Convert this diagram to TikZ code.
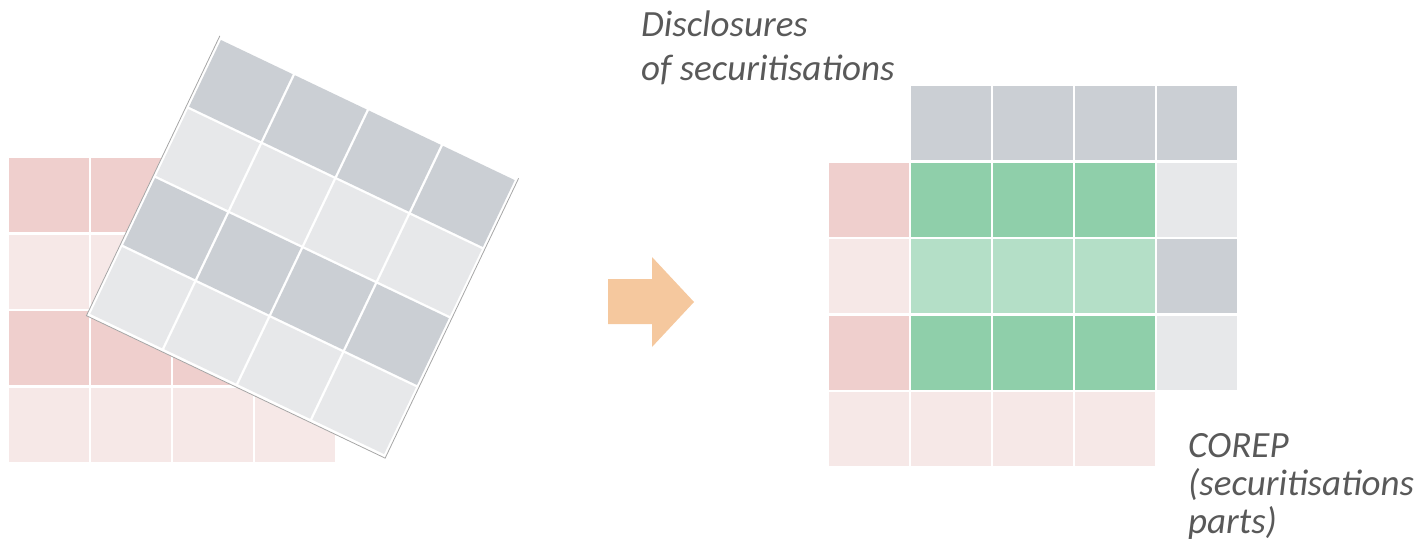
\documentclass[tikz,border=0pt]{standalone}
\usepackage{fontspec}
\setmainfont{Carlito}
\usetikzlibrary{positioning}
\definecolor{pinkdark}{HTML}{EFCFCD}
\definecolor{pinklight}{HTML}{F6E8E7}
\definecolor{graydark}{HTML}{CBCFD4}
\definecolor{graylight}{HTML}{E7E8EA}
\definecolor{greendark}{HTML}{8FCFAA}
\definecolor{greenlight}{HTML}{B4DFC7}
\definecolor{arrowfill}{HTML}{F5C89E}
\definecolor{notegray}{HTML}{595959}

\begin{document}
\begin{tikzpicture}[x=1pt, y=-1pt,
  notetext/.style={anchor=base west, inner sep=0, align=left, text=notegray}]
\useasboundingbox (0,0) rectangle (1422,547);
% pink template, left
\foreach \r/\shade in {0/pinkdark,1/pinklight,2/pinkdark,3/pinklight}
  \foreach \c in {0,...,3}
    \fill[\shade] (9+82*\c, 158+76.5*\r) rectangle ++(79.5,74);
% tilted grey template on top
\begin{scope}[rotate around={-25.5:(302.5,247)}]
\fill[white] (137,92) rectangle (468,402);
\draw[black!35, line width=0.8] (137,92) -- (137,402) -- (468,402) -- (468,92);
\foreach \r/\shade in {0/graydark,1/graylight,2/graydark,3/graylight}
  \foreach \c in {0,...,3}
    \fill[\shade] (139.75+82*\c, 95.25+76.5*\r) rectangle ++(79.5,74);
\end{scope}
% arrow
\fill[arrowfill] (608,279) -- (652,279) -- (652,257) -- (694,302)
  -- (652,347) -- (652,324) -- (608,324) -- cycle;
% merged grid, right
\foreach \c in {1,...,4}
  \fill[graydark] (829+82*\c, 86) rectangle ++(79.5,74);
\foreach \r/\lcol/\mcol/\rcol in {1/pinkdark/greendark/graylight,
    2/pinklight/greenlight/graydark, 3/pinkdark/greendark/graylight}{
  \fill[\lcol] (829, 86+76.5*\r) rectangle ++(79.5,74);
  \foreach \c in {1,2,3}
    \fill[\mcol] (829+82*\c, 86+76.5*\r) rectangle ++(79.5,74);
  \fill[\rcol] (829+82*4, 86+76.5*\r) rectangle ++(79.5,74);
}
\foreach \c in {0,...,3}
  \fill[pinklight] (829+82*\c, 86+76.5*4) rectangle ++(79.5,74);
% labels (anchored on the last line)
\node[notetext, font=\itshape\fontsize{37}{44}\selectfont] (disclosures)
  at (641,80) {Disclosures\\of securitisations};
\node[notetext, font=\itshape\fontsize{37}{38}\selectfont] (corep)
  at (1188,533) {COREP\\(securitisations\\parts)};
\end{tikzpicture}
\end{document}
